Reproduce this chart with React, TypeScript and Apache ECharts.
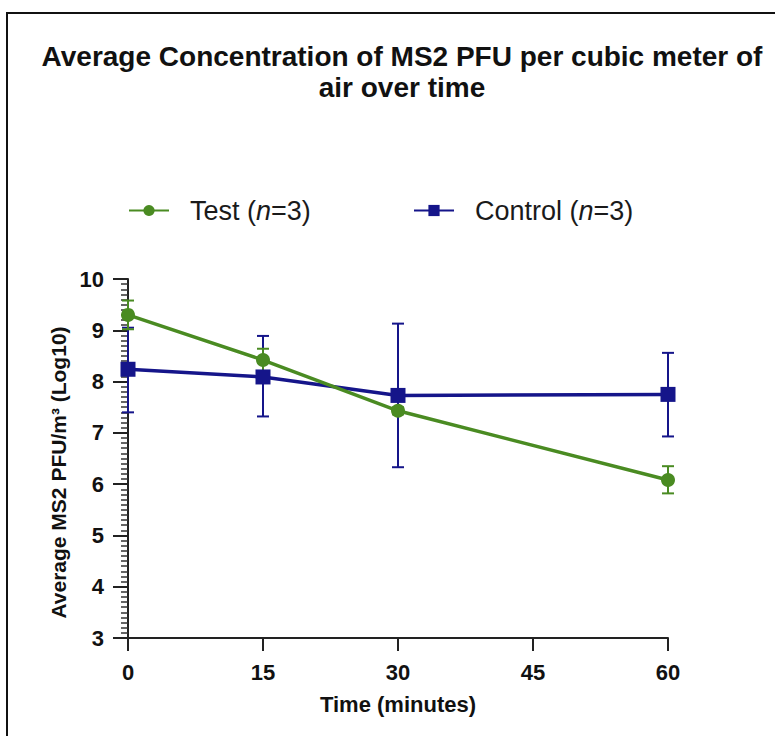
import React, { useEffect, useRef } from "react";
import * as echarts from "echarts";

const times = [0, 15, 30, 60];
const testMean = [9.3, 8.42, 7.43, 6.08];
const testLow = [9.02, 8.2, 7.36, 5.82];
const testHigh = [9.58, 8.64, 7.5, 6.35];
const controlMean = [8.24, 8.09, 7.73, 7.75];
const controlLow = [7.4, 7.32, 6.33, 6.93];
const controlHigh = [9.05, 8.89, 9.13, 8.56];
const xTicks = [0, 15, 30, 45, 60];
const yTicks = [3, 4, 5, 6, 7, 8, 9, 10];

const GREEN = "#4a8b22";
const NAVY = "#15158a";
const FONT = "'Liberation Sans', Arial, sans-serif";

function errorSeries(name: string, low: number[], high: number[], color: string) {
  return {
    name,
    type: "custom",
    silent: true,
    clip: false,
    z: 3,
    encode: { x: 0, y: [1, 2] },
    data: times.map((t, i) => [t, low[i], high[i]]),
    renderItem: (params: any, api: any) => {
      const x = api.value(0);
      const pLo = api.coord([x, api.value(1)]);
      const pHi = api.coord([x, api.value(2)]);
      const hw = 6;
      const st = { stroke: color, lineWidth: 2 };
      return {
        type: "group",
        children: [
          { type: "line", shape: { x1: pHi[0], y1: pHi[1], x2: pLo[0], y2: pLo[1] }, style: st },
          { type: "line", shape: { x1: pHi[0] - hw, y1: pHi[1], x2: pHi[0] + hw, y2: pHi[1] }, style: st },
          { type: "line", shape: { x1: pLo[0] - hw, y1: pLo[1], x2: pLo[0] + hw, y2: pLo[1] }, style: st },
        ],
      };
    },
  };
}

export default function App() {
  const ref = useRef<HTMLDivElement>(null);
  useEffect(() => {
    document.body.style.margin = "0";
    const chart = echarts.init(ref.current!, null, { renderer: "svg" });
    const legendText = {
      fontFamily: FONT,
      fontSize: 27,
      color: "#1a1a1a",
      rich: {
        s: { width: 16, fontSize: 27, fontFamily: FONT },
        i: { fontStyle: "italic", fontSize: 27, fontFamily: FONT, color: "#1a1a1a" },
      },
    };
    chart.setOption({
      animation: false,
      backgroundColor: "#ffffff",
      title: {
        text: "Average Concentration of MS2 PFU per cubic meter of\nair over time",
        left: 397,
        top: 36,
        textAlign: "center",
        textStyle: {
          fontFamily: FONT,
          fontSize: 28,
          fontWeight: "bold",
          color: "#111",
          lineHeight: 31,
        },
      },
      graphic: [
        {
          type: "rect",
          shape: { x: 7, y: 13, width: 900, height: 900 },
          style: { fill: "none", stroke: "#111", lineWidth: 2 },
          silent: true,
        },
      ],
      legend: [
        {
          data: ["Test"],
          left: 123,
          top: 192,
          itemWidth: 40,
          itemHeight: 14,
          formatter: () => "{s|}Test ({i|n}=3)",
          textStyle: legendText,
        },
        {
          data: ["Control"],
          left: 408,
          top: 192,
          itemWidth: 40,
          itemHeight: 14,
          formatter: () => "{s|}Control ({i|n}=3)",
          textStyle: legendText,
        },
      ],
      grid: { left: 128, right: 107, top: 279, bottom: 98, containLabel: false },
      xAxis: {
        type: "value",
        min: xTicks[0],
        max: xTicks[xTicks.length - 1],
        interval: 15,
        name: "Time (minutes)",
        nameLocation: "middle",
        nameGap: 55,
        nameTextStyle: { fontFamily: FONT, fontSize: 22, fontWeight: "bold", color: "#111" },
        axisLine: { show: true, onZero: false, lineStyle: { color: "#222", width: 2 } },
        axisTick: { show: true, length: 13, lineStyle: { color: "#222", width: 2 } },
        axisLabel: { margin: 23, fontFamily: FONT, fontSize: 22, fontWeight: "bold", color: "#111" },
        splitLine: { show: false },
      },
      yAxis: {
        type: "value",
        min: yTicks[0],
        max: yTicks[yTicks.length - 1],
        interval: 1,
        name: "Average MS2 PFU/m³ (Log10)",
        nameLocation: "middle",
        nameGap: 56,
        nameTextStyle: {
          fontFamily: FONT,
          fontSize: 21,
          fontWeight: "bold",
          color: "#111",
          padding: [0, 28, 0, 0],
        },
        axisLine: { show: true, onZero: false, lineStyle: { color: "#222", width: 2 } },
        axisTick: { show: true, length: 15, lineStyle: { color: "#222", width: 2 } },
        minorTick: { show: true, splitNumber: 10, length: 7, lineStyle: { color: "#333", width: 1.5 } },
        axisLabel: { margin: 24, fontFamily: FONT, fontSize: 22, fontWeight: "bold", color: "#111" },
        splitLine: { show: false },
      },
      series: [
        errorSeries("Control err", controlLow, controlHigh, NAVY),
        {
          name: "Control",
          type: "line",
          z: 4,
          data: times.map((t, i) => [t, controlMean[i]]),
          symbol: "rect",
          symbolSize: 15,
          itemStyle: { color: NAVY },
          lineStyle: { color: NAVY, width: 3.5 },
        },
        errorSeries("Test err", testLow, testHigh, GREEN),
        {
          name: "Test",
          type: "line",
          z: 5,
          data: times.map((t, i) => [t, testMean[i]]),
          symbol: "circle",
          symbolSize: 14,
          itemStyle: { color: GREEN },
          lineStyle: { color: GREEN, width: 3.5 },
        },
      ],
    });
    return () => chart.dispose();
  }, []);
  return <div ref={ref} style={{ width: 775, height: 736 }} />;
}
